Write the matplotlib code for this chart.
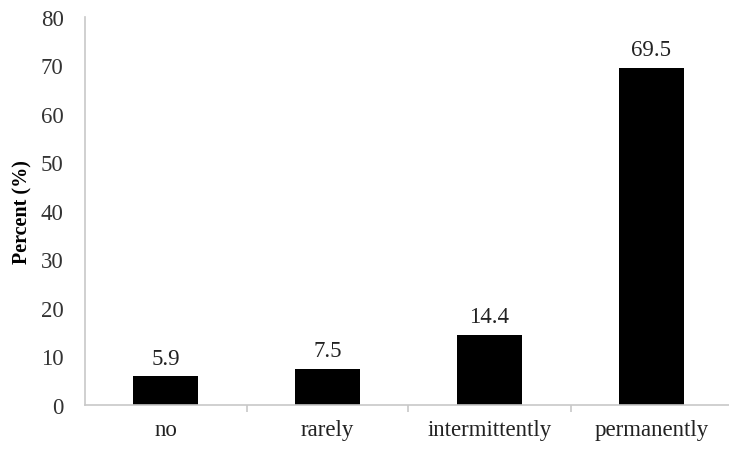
import numpy as np
import matplotlib.pyplot as plt
from matplotlib.ticker import FixedLocator

# data
categories = ["no", "rarely", "intermittently", "permanently"]
percent = [5.9, 7.5, 14.4, 69.5]
y_ticks = [0, 10, 20, 30, 40, 50, 60, 70, 80]

plt.rcParams['font.family'] = ['Liberation Serif', 'DejaVu Serif']

fig = plt.figure(figsize=(7.29, 4.52), dpi=100)
W, H = 729, 452
left, right, top, bottom = 84.5, 732.5, 18, 406
ax = fig.add_axes([left / W, 1 - bottom / H, (right - left) / W, (bottom - top) / H])

x = np.arange(len(categories))
ax.bar(x, percent, width=0.4, color="black")

for xi, v in zip(x, percent):
    ax.text(xi, v + 1.6, f"{v}", ha="center", va="bottom", fontsize=16.5, color="#222222")

ax.set_xlim(-0.5, len(categories) - 0.5)
ax.set_ylim(0, 80)
ax.set_yticks(y_ticks)
ax.set_xticks(x)
ax.set_xticklabels(categories)
ax.xaxis.set_minor_locator(FixedLocator(x[:-1] + 0.5))

for s in ["top", "right"]:
    ax.spines[s].set_visible(False)
for s in ["left", "bottom"]:
    ax.spines[s].set_color("#c8c8c8")
    ax.spines[s].set_linewidth(1.2)

ax.tick_params(axis="y", length=0, pad=15, labelsize=16.5, labelcolor="#333333")
ax.tick_params(axis="x", which="major", length=0, pad=10, labelsize=16.5, labelcolor="#222222")
ax.tick_params(axis="x", which="minor", length=5, color="#c8c8c8", width=1.2)

ax.set_ylabel("Percent (%)", fontweight="bold", fontsize=14.5, labelpad=6)

fig.savefig("out.png", dpi=100)
